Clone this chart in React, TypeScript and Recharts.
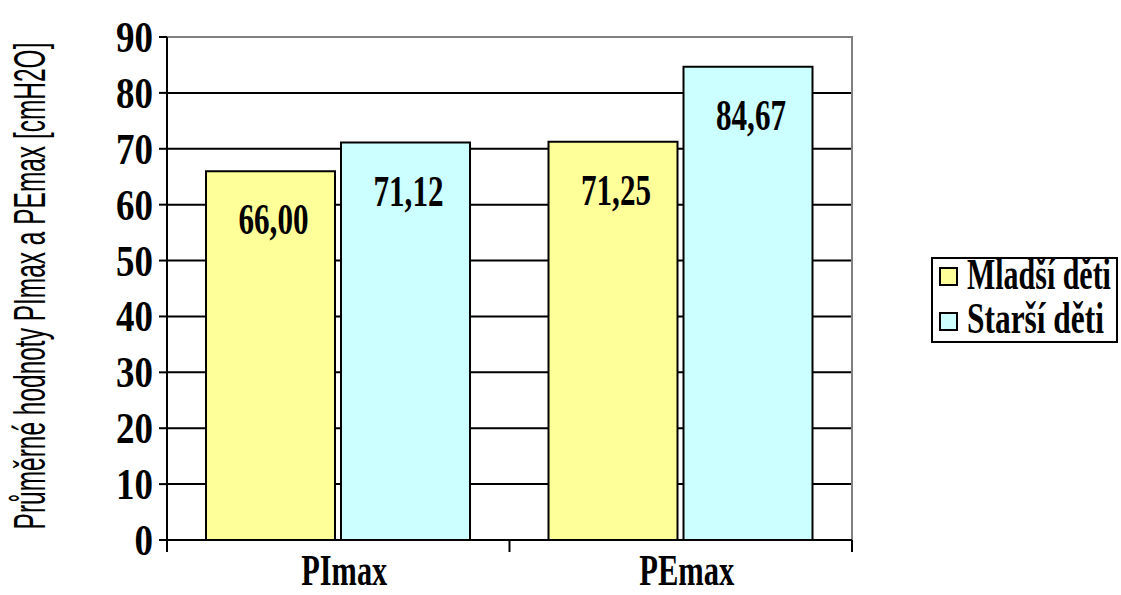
import React, { useLayoutEffect, useRef, useState } from "react";
import { BarChart, Bar, XAxis, YAxis, CartesianGrid, LabelList, Legend, ReferenceArea } from "recharts";

const categories = ["PImax", "PEmax"];
const mladsi = [66.0, 71.25];
const starsi = [71.12, 84.67];
const seriesNames = ["Mladší děti", "Starší děti"];
const seriesColors = ["#FFFF99", "#CCFFFF"];
const yTicks = [0, 10, 20, 30, 40, 50, 60, 70, 80, 90];
const yTitle = "Průměrné hodnoty PImax a PEmax [cmH2O]";

const data = categories.map((c, i) => ({ name: c, mladsi: mladsi[i], starsi: starsi[i] }));

const W = 1121;
const H = 595;
const PLOT_LEFT = 167;
const PLOT_RIGHT = 852;
const BAND = (PLOT_RIGHT - PLOT_LEFT) / categories.length;
const SERIF = "'Liberation Serif', 'Times New Roman', serif";
const SANS = "'Liberation Sans', Arial, sans-serif";

const fmt = (v: number) => v.toFixed(2).replace(".", ",");

// Text squeezed horizontally to a target width (the reference uses condensed glyphs)
const FitText = (props: any) => {
  const { x, y, width, anchor = "start", rotate = 0, fontFamily = SERIF, fontWeight = "bold", fontSize, children } = props;
  const ref = useRef<SVGTextElement>(null);
  const [s, setS] = useState(1);
  useLayoutEffect(() => {
    if (ref.current) {
      const len = ref.current.getComputedTextLength();
      if (len > 0) setS(width / len);
    }
  }, [width, children]);
  return (
    <g transform={`translate(${x},${y}) rotate(${rotate}) scale(${s},1)`}>
      <text ref={ref} x={0} y={0} textAnchor={anchor} fontFamily={fontFamily} fontWeight={fontWeight}
        fontSize={fontSize} fill="#000">{children}</text>
    </g>
  );
};

const YTick = (props: any) => {
  const { x, y, payload } = props;
  const s = String(payload.value);
  return <FitText x={x} y={y + 15} anchor="end" fontSize={44} width={s.length * 18.5}>{s}</FitText>;
};

const xLabelWidths: Record<string, number> = { PImax: 86, PEmax: 95 };

const XTick = (props: any) => {
  const { x, y, payload, index } = props;
  const axisY = y - 4;
  const s = String(payload.value);
  return (
    <g>
      <line x1={x - BAND / 2} x2={x - BAND / 2} y1={axisY - 4} y2={axisY + 8} stroke="#000" strokeWidth={2} />
      {index === categories.length - 1 && (
        <line x1={x + BAND / 2} x2={x + BAND / 2} y1={axisY - 4} y2={axisY + 8} stroke="#000" strokeWidth={2} />
      )}
      <FitText x={x + 6} y={585} anchor="middle" fontSize={44} width={xLabelWidths[s] || 90}>{s}</FitText>
    </g>
  );
};

const ValueLabel = (props: any) => {
  const { x, y, width, value } = props;
  return <FitText x={x + width / 2 + 3} y={y + 63} anchor="middle" fontSize={45} width={70}>{fmt(value)}</FitText>;
};

const LG_PAD = 16;
const LegendBox = () => (
  <svg width={188} height={87 + 2 * LG_PAD} style={{ display: "block" }}>
    <g transform={`translate(0,${LG_PAD})`}>
      <rect x={1} y={1} width={185} height={84} fill="#fff" stroke="#000" strokeWidth={2} />
      {seriesNames.map((n, i) => (
        <g key={n}>
          <rect x={9} y={11 + i * 45} width={17} height={17} fill={seriesColors[i]} stroke="#000" strokeWidth={2} />
          <FitText x={36} y={32 + i * 44} fontSize={44} width={i === 0 ? 144 : 137}>{n}</FitText>
        </g>
      ))}
    </g>
  </svg>
);

export default function App() {
  return (
    <div style={{ position: "absolute", left: 0, top: 0, width: W, height: H, background: "#fff" }}>
      <BarChart width={W} height={H} data={data}
        margin={{ top: 37, right: W - PLOT_RIGHT, bottom: 25, left: PLOT_LEFT - 60 }}
        barCategoryGap={39} barGap={6}>
        <CartesianGrid vertical={false} horizontalValues={[10, 20, 30, 40, 50, 60, 70, 80]} stroke="#000" strokeWidth={2} />
        <ReferenceArea y1={0} y2={90} fill="none" stroke="#808080" strokeWidth={2} ifOverflow="visible" />
        <XAxis dataKey="name" height={30} axisLine={{ stroke: "#000", strokeWidth: 2 }} tickLine={false} tick={<XTick />} interval={0} />
        <YAxis width={60} domain={[0, 90]} ticks={yTicks} interval={0} axisLine={{ stroke: "#000", strokeWidth: 2 }}
          tickLine={{ stroke: "#000", strokeWidth: 2 }} tickSize={8} tickMargin={6} tick={<YTick />}
          label={{
            content: () => (
              <FitText x={45} y={286} rotate={-90} anchor="middle" fontFamily={SANS} fontWeight="normal"
                fontSize={44} width={487}>{yTitle}</FitText>
            ),
          }} />
        <Legend layout="vertical" align="center" verticalAlign="middle" content={() => <LegendBox />}
          wrapperStyle={{ position: "absolute", left: 931, top: 257 - LG_PAD, width: 188, height: 87 + 2 * LG_PAD }} />
        <Bar dataKey="mladsi" name={seriesNames[0]} fill={seriesColors[0]} stroke="#000" strokeWidth={2} isAnimationActive={false}>
          <LabelList dataKey="mladsi" content={<ValueLabel />} />
        </Bar>
        <Bar dataKey="starsi" name={seriesNames[1]} fill={seriesColors[1]} stroke="#000" strokeWidth={2} isAnimationActive={false}>
          <LabelList dataKey="starsi" content={<ValueLabel />} />
        </Bar>
      </BarChart>
    </div>
  );
}
